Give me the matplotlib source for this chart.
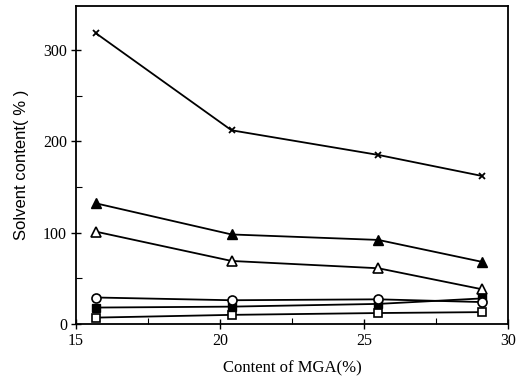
import matplotlib
matplotlib.use("Agg")
import matplotlib.pyplot as plt
from matplotlib.ticker import MultipleLocator

mga = [15.7, 20.4, 25.5, 29.1]
cross_vals = [318, 212, 185, 162]
tri_filled_vals = [132, 98, 92, 68]
tri_open_vals = [101, 69, 61, 38]
circle_vals = [29, 26, 27, 24]
sq_filled_vals = [18, 19, 22, 28]
sq_open_vals = [7, 10, 12, 13]
x_ticks = [15, 20, 25, 30]
y_ticks = [0, 100, 200, 300]

fig = plt.figure(figsize=(5.22, 3.80), dpi=100)
ax = fig.add_axes([76/522, 1-324/380, (508-76)/522, (324-6)/380])

lw = 1.3
ax.plot(mga, cross_vals, color='black', lw=lw, marker='x', ms=5, mew=1.3)
ax.plot(mga, tri_filled_vals, color='black', lw=lw, marker='^', ms=6.5, mfc='black')
ax.plot(mga, tri_open_vals, color='black', lw=lw, marker='^', ms=6.5, mfc='white', mew=1.2)
ax.plot(mga, sq_open_vals, color='black', lw=lw, marker='s', ms=5.5, mfc='white', mew=1.2)
ax.plot(mga, sq_filled_vals, color='black', lw=lw, marker='s', ms=5.5, mfc='black')
ax.plot(mga, circle_vals, color='black', lw=lw, marker='o', ms=6.5, mfc='white', mew=1.2)

ax.set_xlim(15, 30)
ax.set_ylim(0, 348)
ax.set_xticks(x_ticks)
ax.set_yticks(y_ticks)
ax.xaxis.set_minor_locator(MultipleLocator(2.5))
ax.yaxis.set_minor_locator(MultipleLocator(50))
ax.tick_params(which='major', direction='inout', length=7, width=1.0, labelsize=11.5, pad=3)
ax.tick_params(which='minor', direction='in', length=4, width=0.8)
for lab in ax.get_xticklabels() + ax.get_yticklabels():
    lab.set_family('Liberation Serif')

for s in ax.spines.values():
    s.set_linewidth(1.3)

ax.set_xlabel('Content of MGA(%)', family='Liberation Serif', fontsize=12, labelpad=8)
ax.set_ylabel('Solvent content( % )', family='Liberation Sans', fontsize=12, labelpad=10)

fig.savefig('out.png', dpi=100)
